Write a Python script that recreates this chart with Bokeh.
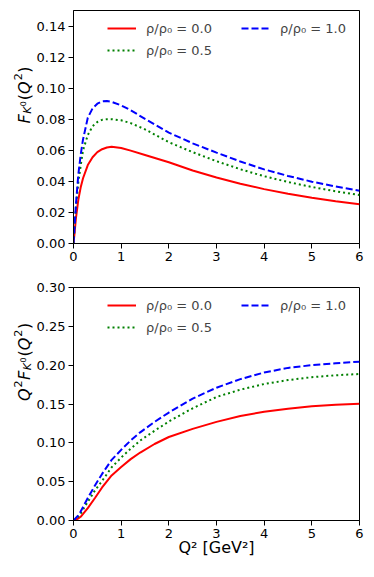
import math
from bokeh.plotting import figure
from bokeh.models import Range1d, FixedTicker, PrintfTickFormatter, Legend, LegendItem, Label
from bokeh.layouts import column, row
from bokeh.embed import file_html
from bokeh.resources import INLINE

# ---------------- data ----------------
q2_top = [0, 0.02, 0.05, 0.1, 0.15, 0.2, 0.3, 0.4, 0.5, 0.6, 0.7, 0.8, 1.0, 1.2, 1.5,
          2.0, 2.5, 3.0, 3.5, 4.0, 4.5, 5.0, 5.5, 6.0]
f_rho00 = [0, 0.006, 0.016, 0.028, 0.036, 0.042, 0.0505, 0.0555, 0.0588, 0.0607, 0.0618,
           0.0623, 0.0615, 0.0598, 0.057, 0.0523, 0.047, 0.0425, 0.0385, 0.0350, 0.032,
           0.0295, 0.0272, 0.0253]
f_rho05 = [0, 0.009, 0.023, 0.039, 0.050, 0.060, 0.0698, 0.0755, 0.0782, 0.0796, 0.0800,
           0.0800, 0.0793, 0.0775, 0.0735, 0.0652, 0.0588, 0.0530, 0.0478, 0.0433, 0.0396,
           0.0364, 0.0336, 0.0312]
f_rho10 = [0, 0.0095, 0.025, 0.044, 0.057, 0.067, 0.0810, 0.0870, 0.0900, 0.0915, 0.0918,
           0.0912, 0.0889, 0.0858, 0.0802, 0.0714, 0.0645, 0.0585, 0.0528, 0.0477, 0.0435,
           0.0398, 0.0367, 0.0340]

q2_bot = [0, 0.1, 0.15, 0.3, 0.45, 0.6, 0.8, 1.0, 1.2, 1.4, 1.7, 2.0, 2.5, 3.0, 3.5,
          4.0, 4.5, 5.0, 5.5, 6.0]
g_rho00 = [0, 0.0025, 0.0048, 0.016, 0.029, 0.0425, 0.058, 0.069, 0.079, 0.0875, 0.0985,
           0.1075, 0.118, 0.127, 0.1345, 0.140, 0.144, 0.147, 0.149, 0.1502]
g_rho05 = [0, 0.005, 0.009, 0.024, 0.0386, 0.051, 0.0685, 0.081, 0.0925, 0.103, 0.1155,
           0.1275, 0.1445, 0.159, 0.1685, 0.1757, 0.1808, 0.1845, 0.187, 0.1886]
g_rho10 = [0, 0.0065, 0.0115, 0.029, 0.045, 0.060, 0.078, 0.091, 0.103, 0.1135, 0.127,
           0.139, 0.157, 0.171, 0.182, 0.1905, 0.1965, 0.200, 0.2025, 0.2045]

legend_labels = ["ρ/ρ₀ = 0.0", "ρ/ρ₀ = 0.5", "ρ/ρ₀ = 1.0"]
x_ticks = [0, 1, 2, 3, 4, 5, 6]
y_ticks_top = [0.0, 0.02, 0.04, 0.06, 0.08, 0.10, 0.12, 0.14]
y_ticks_bot = [0.0, 0.05, 0.10, 0.15, 0.20, 0.25, 0.30]
x_title = "Q² [GeV²]"

# ---------------- styling ----------------
FONT = "DejaVu Sans"
TICK_FS = "13px"
LEG_FS = "13px"
LAB_FS = 16.0
FW, FH = 286, 233
LABW = 33            # width of the strip that holds the rotated y labels
BL, BR = 73 - LABW, 10
COLORS = ["#ff0000", "#008000", "#0000ff"]
DASHES = ["solid", "2 3", "7 3"]

W = {'F': 0.575, 'K': 0.656, 'Q': 0.787, '(': 0.390, ')': 0.390, '0': 0.636,
     '2': 0.636, ' ': 0.318, '[': 0.390, ']': 0.390, 'G': 0.775, 'e': 0.615, 'V': 0.684}


def tw(s, size):
    return sum(W.get(c, 0.6) for c in s) * size


def label_strip(width, height):
    s = figure(width=width, height=height, output_backend="svg", toolbar_location=None,
               x_axis_location=None, y_axis_location=None,
               x_range=Range1d(0, 1), y_range=Range1d(0, 1),
               min_border=0, min_border_left=0, min_border_right=0,
               min_border_top=0, min_border_bottom=0)
    s.outline_line_color = None
    s.xgrid.visible = False
    s.ygrid.visible = False
    s.background_fill_color = "white"
    s.border_fill_color = "white"
    return s


def rich_label(p, pieces, base, center):
    """Rotated label built from pieces: (text, size, italic, baseline shift, gap after)."""
    total = sum(tw(t, s) + ga for t, s, it, sh, ga in pieces)
    cur = center - total / 2.0
    for t, s, it, sh, ga in pieces:
        style = "italic" if it else "normal"
        w = tw(t, s)
        p.add_layout(Label(x=base - sh, y=cur + w, x_units="screen", y_units="screen", text=t,
                           angle=math.pi / 2, text_align="right", text_baseline="alphabetic",
                           text_font=FONT, text_font_size=f"{s:.1f}px", text_font_style=style,
                           text_color="black"))
        cur += w + ga


def make_fig(ymax, yticks, border_top, border_bottom):
    p = figure(frame_width=FW, frame_height=FH, x_range=Range1d(0, 6), y_range=Range1d(0, ymax),
               output_backend="svg", toolbar_location=None,
               min_border_left=BL, min_border_right=BR,
               min_border_top=border_top, min_border_bottom=border_bottom)
    p.background_fill_color = "white"
    p.border_fill_color = "white"
    p.outline_line_color = "black"
    p.outline_line_width = 1
    p.outline_line_alpha = 1
    p.xgrid.visible = False
    p.ygrid.visible = False
    for ax in (p.xaxis[0], p.yaxis[0]):
        ax.axis_line_color = "black"
        ax.major_tick_line_color = "black"
        ax.major_tick_out = 5
        ax.major_tick_in = 0
        ax.minor_tick_line_color = None
        ax.major_label_text_font = FONT
        ax.major_label_text_font_size = TICK_FS
        ax.major_label_text_color = "black"
    p.xaxis[0].ticker = FixedTicker(ticks=x_ticks)
    p.xaxis[0].formatter = PrintfTickFormatter(format="%d")
    p.xaxis[0].major_label_standoff = 3
    p.yaxis[0].ticker = FixedTicker(ticks=yticks)
    p.yaxis[0].formatter = PrintfTickFormatter(format="%.2f")
    p.yaxis[0].major_label_standoff = 3
    return p


def add_curves(p, xs, ys_list):
    rs = []
    for ys, c, d in zip(ys_list, COLORS, DASHES):
        rs.append(p.line(xs, ys, line_color=c, line_width=2, line_dash=d))
    leg1 = Legend(items=[LegendItem(label=legend_labels[0], renderers=[rs[0]]),
                         LegendItem(label=legend_labels[1], renderers=[rs[1]])],
                  location=(34, FH - 50))
    leg2 = Legend(items=[LegendItem(label=legend_labels[2], renderers=[rs[2]])],
                  location=(168, FH - 28))
    for lg in (leg1, leg2):
        lg.label_text_font = FONT
        lg.label_text_font_size = LEG_FS
        lg.glyph_width = 29
        lg.glyph_height = 20
        lg.label_height = 20
        lg.label_standoff = 10
        lg.spacing = 2
        lg.padding = 0
        lg.margin = 0
        lg.border_line_alpha = 0
        lg.background_fill_alpha = 0
        p.add_layout(lg, "center")


sub = 3.0
sup = 6.5
FK0 = [("F", LAB_FS, True, 0, 0.5),
       ("K", LAB_FS * 0.7, True, -sub, 0.3),
       ("0", LAB_FS * 0.49, False, -sub + 4.5, 1.0),
       ("(", LAB_FS, False, 0, 0),
       ("Q", LAB_FS, True, 0, 1.0),
       ("2", LAB_FS * 0.7, False, sup, 0.5),
       (")", LAB_FS, False, 0, 0)]
BASE = 23.5

# ---------------- top panel ----------------
TOP_B1, BOT_B1 = 10, 32
p1 = make_fig(0.15, y_ticks_top, TOP_B1, BOT_B1)
add_curves(p1, q2_top, [f_rho00, f_rho05, f_rho10])
yl1 = label_strip(LABW, TOP_B1 + FH + BOT_B1)
rich_label(yl1, FK0, base=BASE, center=BOT_B1 + FH / 2.0)

# ---------------- bottom panel ----------------
TOP_B2, BOT_B2 = 12, 46
p2 = make_fig(0.30, y_ticks_bot, TOP_B2, BOT_B2)
add_curves(p2, q2_bot, [g_rho00, g_rho05, g_rho10])
p2.xaxis[0].axis_label = x_title
p2.xaxis[0].axis_label_text_font = FONT
p2.xaxis[0].axis_label_text_font_size = f"{LAB_FS:.0f}px"
p2.xaxis[0].axis_label_text_font_style = "normal"
p2.xaxis[0].axis_label_text_color = "black"
p2.xaxis[0].axis_label_standoff = -3
yl2 = label_strip(LABW, TOP_B2 + FH + BOT_B2)
rich_label(yl2, [("Q", LAB_FS, True, 0, 1.0),
                 ("2", LAB_FS * 0.7, False, sup, 0.5)] + FK0,
           base=BASE, center=BOT_B2 + FH / 2.0 - 4)

layout = column(row(yl1, p1, spacing=0), row(yl2, p2, spacing=0), spacing=0)
open("out.html", "w").write(file_html(layout, INLINE))
